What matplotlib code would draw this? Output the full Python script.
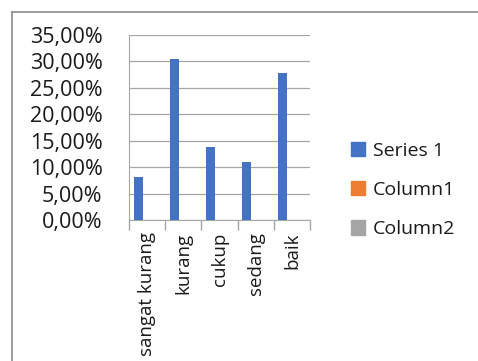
import matplotlib.pyplot as plt
from matplotlib.lines import Line2D
from matplotlib.ticker import FuncFormatter
import numpy as np

# data
categories = ['sangat kurang', 'kurang', 'cukup', 'sedang', 'baik']
series1 = [0.082, 0.304, 0.138, 0.110, 0.278]
column1 = [0, 0, 0, 0, 0]
column2 = [0, 0, 0, 0, 0]
series_names = ['Series 1', 'Column1', 'Column2']
colors = ['#4472C4', '#ED7D31', '#A5A5A5']

plt.rcParams['font.family'] = ['Open Sans', 'DejaVu Sans']

fig = plt.figure(figsize=(4.78, 3.61), dpi=100)
ax = fig.add_axes([129 / 478, 1 - 220 / 361, 181 / 478, 185 / 361])

x = np.arange(len(categories))
w = 0.25
for k, vals in enumerate([series1, column1, column2]):
    ax.bar(x + (k - 1) * w, vals, width=w, color=colors[k], label=series_names[k], zorder=3)

ax.set_xlim(-0.5, len(categories) - 0.5)
ax.set_ylim(0, 0.35)
ax.set_yticks(np.arange(0, 0.351, 0.05))
ax.yaxis.set_major_formatter(FuncFormatter(lambda v, p: f'{v * 100:.2f}%'.replace('.', ',')))
ax.grid(axis='y', color='#A6A6A6', linewidth=0.9, zorder=0)

ax.set_xticks(x)
ax.set_xticklabels(categories, rotation=90, fontsize=13.5, color='#1A1A1A')
ax.tick_params(axis='x', length=0, pad=9)
ax.set_xticks(np.arange(-0.5, len(categories)), minor=True)
ax.tick_params(axis='x', which='minor', length=7, color='#A6A6A6', width=1)
ax.tick_params(axis='y', length=0, labelsize=15.5, labelcolor='#1A1A1A', pad=19)

for s in ['top', 'right']:
    ax.spines[s].set_visible(False)
ax.spines['left'].set_color('#A6A6A6')
ax.spines['bottom'].set_color('#A6A6A6')

handles = [plt.Rectangle((0, 0), 1, 1, color=c) for c in colors]
fig.legend(handles, series_names, loc='center left', bbox_to_anchor=(333 / 478, 1 - 190 / 361),
           frameon=False, fontsize=14, handlelength=0.75, handleheight=0.75,
           handletextpad=0.4, labelspacing=1.1, labelcolor='#1A1A1A')

# chart border (top and left)
fig.add_artist(Line2D([12 / 478, 1], [1 - 12 / 361, 1 - 12 / 361], color='#8C8C8C', linewidth=1.2))
fig.add_artist(Line2D([12 / 478, 12 / 478], [0, 1 - 12 / 361], color='#8C8C8C', linewidth=1.2))

fig.savefig('out.png', dpi=100)
